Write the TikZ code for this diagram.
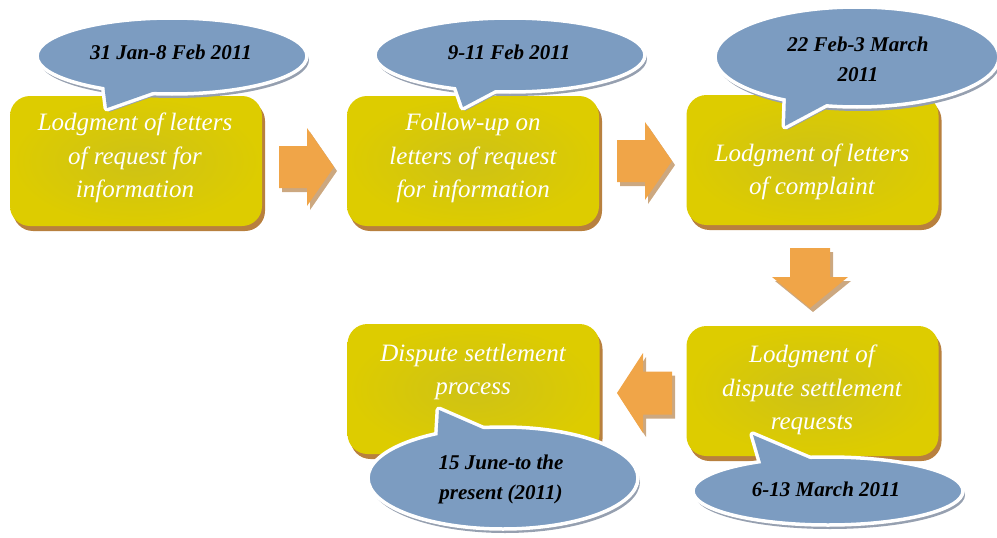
\documentclass[tikz,border=0pt]{standalone}
\usepackage{fontspec}
\setmainfont{Liberation Serif}
\usetikzlibrary{shapes.geometric,shadows}
\definecolor{boxfill}{RGB}{221,204,0}
\definecolor{boxglow}{RGB}{206,194,22}
\definecolor{boxshade}{RGB}{184,128,62}
\definecolor{callfill}{RGB}{124,156,193}
\definecolor{callshade}{RGB}{150,160,176}
\definecolor{arrowfill}{RGB}{240,165,72}
\definecolor{arrowshade}{RGB}{204,168,128}

\newcommand\blockarrow[7]{% cx, cy, rotate, length, head width, shaft width, head length
  \fill[arrowshade, shift={(#1+3,#2+4)}, rotate=#3]
    ({-#4/2},{-#6/2}) -- ({#4/2-#7},{-#6/2}) -- ({#4/2-#7},{-#5/2}) -- ({#4/2},0)
    -- ({#4/2-#7},{#5/2}) -- ({#4/2-#7},{#6/2}) -- ({-#4/2},{#6/2}) -- cycle;
  \fill[arrowfill, shift={(#1,#2)}, rotate=#3]
    ({-#4/2},{-#6/2}) -- ({#4/2-#7},{-#6/2}) -- ({#4/2-#7},{-#5/2}) -- ({#4/2},0)
    -- ({#4/2-#7},{#5/2}) -- ({#4/2-#7},{#6/2}) -- ({-#4/2},{#6/2}) -- cycle;
}

\newcommand\bubble[8]{% name, cx, cy, rx, ry, base1, tip, base2
  \fill[callshade] (#2+2,#3+4) ellipse[x radius=#4pt, y radius=#5pt];
  \fill[callshade, shift={(2,4)}] #6 -- #7 -- #8 -- cycle;
  \draw[white, line width=7pt, line join=round] #6 -- #7 -- #8;
  \node[callnode, minimum width={2*#4}, minimum height={2*#5}] (#1) at (#2,#3) {};
  \fill[callfill] #6 -- #7 -- #8 -- cycle;
}

\begin{document}
\begin{tikzpicture}[x=1pt,y=-1pt,
  stepbox/.style={rectangle, rounded corners=20pt, minimum width=252pt, minimum height=130pt,
    inner sep=0pt, draw=none, inner color=boxglow, outer color=boxfill,
    drop shadow={shadow xshift=3pt, shadow yshift=-5pt, fill=boxshade, opacity=1}},
  steptext/.style={text=white, align=center, inner sep=0pt,
    font=\fontsize{25}{33.5}\selectfont\itshape},
  callnode/.style={ellipse, draw=white, line width=3.5pt, fill=callfill, inner sep=0pt},
  datetext/.style={text=black, align=center, inner sep=0pt,
    font=\fontsize{21}{30}\selectfont\bfseries\itshape}]
\useasboundingbox (0,0) rectangle (997,538);

% step boxes
\node[stepbox] (b1) at (136,161) {};
\node[stepbox] (b2) at (473,161) {};
\node[stepbox] (b3) at (812.5,160) {};
\node[stepbox] (b4) at (473.5,389) {};
\node[stepbox] (b5) at (812.5,391) {};

\node[steptext] (t1) at (135,158) {Lodgment of letters\\of request for\\information};
\node[steptext] (t2) at (473,158) {Follow-up on\\letters of request\\for information};
\node[steptext] (t3) at (812,172) {Lodgment of letters\\of complaint};
\node[steptext] (t4) at (473,372) {Dispute settlement\\process};
\node[steptext] (t5) at (812,390) {Lodgment of\\dispute settlement\\requests};

% block arrows
\blockarrow{306.5}{167}{0}{55}{78}{42}{27}
\blockarrow{644.5}{161}{0}{55}{78}{42}{27}
\blockarrow{810}{278}{-90}{60}{76}{40}{31}
\blockarrow{644.5}{393}{180}{55}{80}{43}{26}

% callouts
\bubble{c1}{172}{56}{135}{38}{(104,84)}{(107,108)}{(158,90)}
\node[datetext] (d1) at (171,52) {31 Jan-8 Feb 2011};

\bubble{c2}{510}{55}{135}{37}{(455,84)}{(463,107)}{(497,89)}
\node[datetext] (d2) at (509,52) {9-11 Feb 2011};

\bubble{c3}{857}{57}{142}{50}{(786,96)}{(785,126)}{(830,102)}
\node[datetext] (d3) at (858,59) {22 Feb-3 March\\2011};

\bubble{c4}{503}{478}{135}{51}{(437,445)}{(439,410)}{(485,430)}
\node[datetext] (d4) at (501,479.5) {15 June-to the\\present (2011)};

\bubble{c5}{828}{491}{135}{34}{(762,466)}{(753,435)}{(812,460)}
\node[datetext] (d5) at (826,489) {6-13 March 2011};
\end{tikzpicture}
\end{document}
